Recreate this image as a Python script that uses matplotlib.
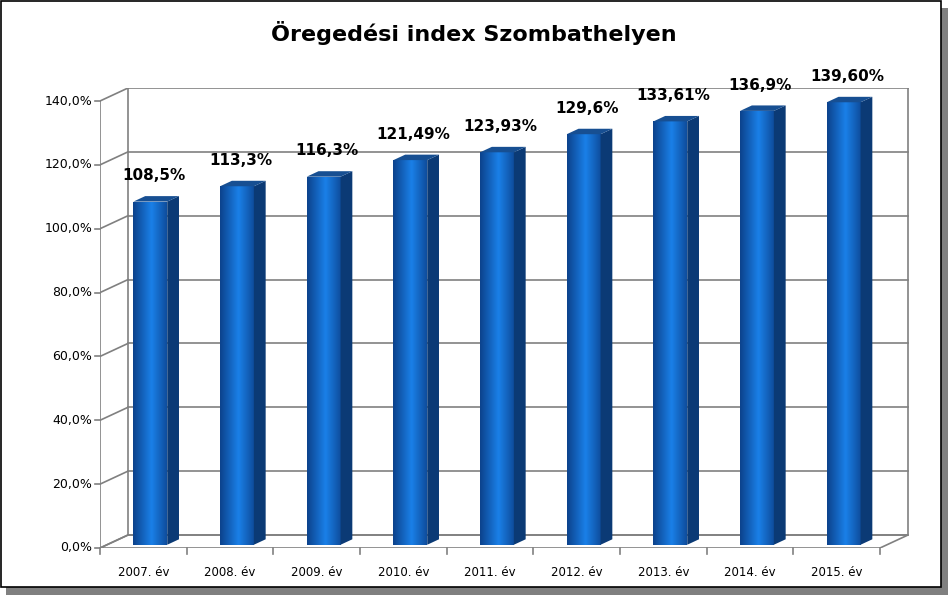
import numpy as np
import matplotlib
matplotlib.use("Agg")
import matplotlib.pyplot as plt
from matplotlib.patches import Polygon, Rectangle

categories = ["2007. év", "2008. év", "2009. év", "2010. év", "2011. év",
              "2012. év", "2013. év", "2014. év", "2015. év"]
values = [108.5, 113.3, 116.3, 121.49, 123.93, 129.6, 133.61, 136.9, 139.60]
labels = ["108,5%", "113,3%", "116,3%", "121,49%", "123,93%", "129,6%",
          "133,61%", "136,9%", "139,60%"]
yticks = [0, 20, 40, 60, 80, 100, 120, 140]
ytick_labels = ["0,0%", "20,0%", "40,0%", "60,0%", "80,0%", "100,0%", "120,0%", "140,0%"]

W, H = 948, 595
fig = plt.figure(figsize=(W/100, H/100), dpi=100)
fig.patch.set_facecolor("white")
fig.patches.append(Rectangle((6/W, 0), (W-6)/W, (H-8)/H, transform=fig.transFigure,
                             facecolor="#808080", edgecolor="none", zorder=-2))
fig.patches.append(Rectangle((1/W, 8/H), (W-8)/W, (H-9)/H, transform=fig.transFigure,
                             facecolor="white", edgecolor="black", lw=1.2, zorder=-1))

n = len(categories)
ppx = 780/9.0
ppy = 447/140.0
DX = 28/ppx
DY = 13/ppy
x0px, y0px = 100, 548
x1px = 910; y1px = 88
ax = fig.add_axes([x0px/W, 1-y0px/H, (x1px-x0px)/W, (y0px-y1px)/H])
ax.set_zorder(5)
ax.axis("off")

gc = "#808080"
ax.add_patch(Polygon([(0, 0), (9, 0), (9+DX, DY), (DX, DY)], closed=True,
                     facecolor="white", edgecolor=gc, lw=1.2, zorder=1))
for t in yticks:
    ax.plot([DX, 9+DX], [t+DY, t+DY], color=gc, lw=1.2, zorder=1)
    ax.plot([0, DX], [t, t+DY], color=gc, lw=1.2, zorder=1)
ax.plot([DX, DX], [DY, 140+DY], color=gc, lw=1.2, zorder=1)
ax.plot([9+DX, 9+DX], [DY, 140+DY], color=gc, lw=1.2, zorder=1)
ax.plot([0, 0], [0, 140], color=gc, lw=1.2, zorder=1)
for t, lab in zip(yticks, ytick_labels):
    ax.plot([-0.06, 0], [t, t], color=gc, lw=1.2, zorder=1, clip_on=False)
    ax.text(-0.09, t, lab, ha="right", va="center", fontsize=9, clip_on=False)
for i in range(10):
    ax.plot([i, i], [0, -1.8], color=gc, lw=1.2, clip_on=False)

bw = 0.39
bd = 0.42
off = 0.25
grad = np.linspace(0, 1, 64)
prof = np.clip(1 - np.abs(grad - 0.55)*1.6, 0, 1)
c_dark = np.array([0x0a, 0x3a, 0x80])/255
c_light = np.array([0x1a, 0x80, 0xe8])/255
img = c_dark[None, :] + (c_light-c_dark)[None, :]*prof[:, None]
img = np.tile(img[None, :, :], (2, 1, 1))

for i, (v, lab) in enumerate(zip(values, labels)):
    cx = i + 0.5
    fx = cx - bw/2 + off*DX
    fy = off*DY
    ddx, ddy = bd*DX, bd*DY
    front = Polygon([(fx, fy), (fx+bw, fy), (fx+bw, v), (fx, v)], closed=True,
                    facecolor="none", edgecolor="none", zorder=3)
    ax.add_patch(front)
    im = ax.imshow(img, extent=[fx, fx+bw, fy, v], aspect="auto", zorder=3,
                   interpolation="bilinear")
    im.set_clip_path(front)
    ax.add_patch(Polygon([(fx+bw, fy), (fx+bw+ddx, fy+ddy), (fx+bw+ddx, v+ddy), (fx+bw, v)],
                         closed=True, facecolor="#0b3a75", edgecolor="none", zorder=3))
    ax.add_patch(Polygon([(fx, v), (fx+bw, v), (fx+bw+ddx, v+ddy), (fx+ddx, v+ddy)],
                         closed=True, facecolor="#174f92", edgecolor="none", zorder=3))
    ax.text(cx + 0.12, v + ddy + 4, lab, ha="center", va="bottom", fontsize=11,
            fontweight="bold", zorder=5)
    ax.text(cx, -5.5, categories[i], ha="center", va="top", fontsize=8.5, clip_on=False)

ax.set_xlim(0, (x1px-x0px)/ppx)
ax.set_ylim(0, (y0px-y1px)/ppy)

fig.text(474/W, 1-33/H, "Öregedési index Szombathelyen", ha="center", va="center",
         fontsize=16, fontweight="bold")
fig.savefig("out.png", dpi=100)
